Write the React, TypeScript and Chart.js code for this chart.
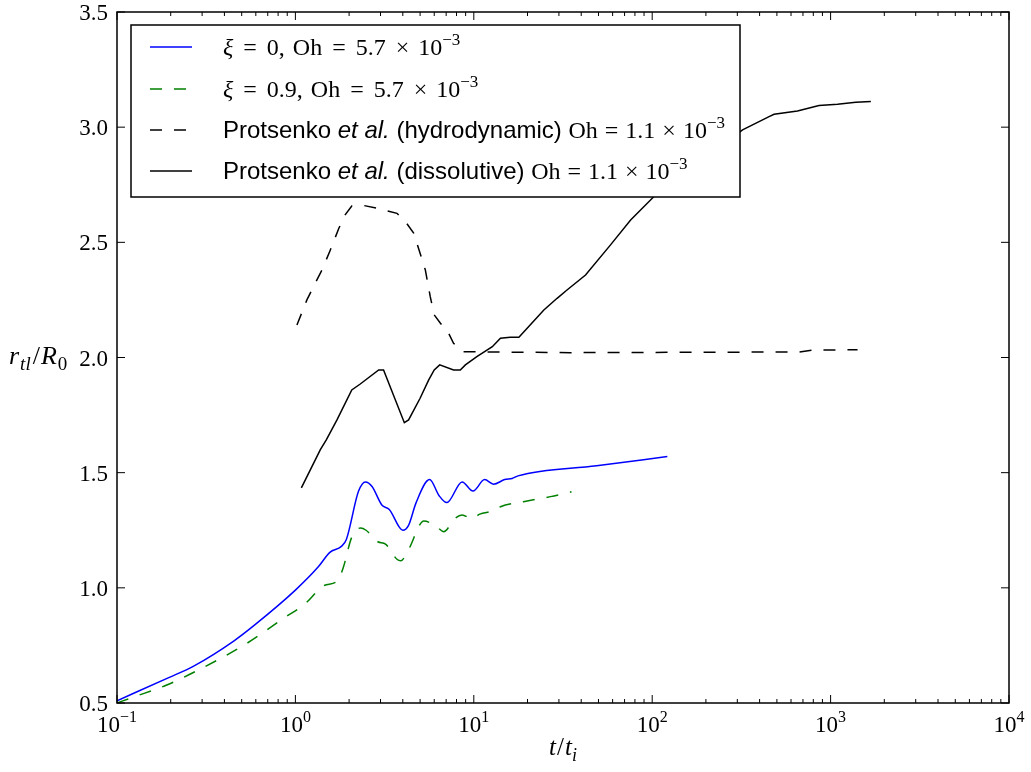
import React, { useEffect, useRef } from "react";
import { Chart, registerables } from "chart.js";

Chart.register(...registerables);

// ---- data ----
const blueT = [0.1, 0.195, 0.269, 0.453, 0.594, 1.0, 1.34, 1.56, 1.81, 1.93, 2.26, 2.47, 2.69, 3.05, 3.36, 4.0, 4.3, 4.75, 5.65, 6.39, 7.06, 8.6, 9.9, 11.5, 12.9, 14.9, 16.4, 17.7, 48.8, 121.6];
const blueY = [0.51, 0.61, 0.66, 0.77, 0.84, 0.99, 1.09, 1.154, 1.18, 1.21, 1.42, 1.46, 1.44, 1.36, 1.34, 1.25, 1.27, 1.37, 1.47, 1.4, 1.37, 1.46, 1.42, 1.47, 1.45, 1.47, 1.475, 1.486, 1.53, 1.57];

const greenT = [0.1, 0.125, 0.19, 0.297, 0.512, 0.86, 1.13, 1.45, 1.72, 1.85, 2.07, 2.32, 2.49, 2.9, 3.2, 3.71, 3.9, 4.3, 5.25, 6.09, 6.79, 7.8, 8.6, 9.75, 10.8, 12.8, 14.1, 19, 26.9, 35.3];
const greenY = [0.5, 0.527, 0.578, 0.65, 0.75, 0.868, 0.93, 1.01, 1.03, 1.085, 1.22, 1.26, 1.25, 1.2, 1.19, 1.124, 1.118, 1.165, 1.29, 1.27, 1.244, 1.3, 1.316, 1.3, 1.32, 1.334, 1.352, 1.374, 1.396, 1.417];

const hydroT = [1.02, 1.16, 1.32, 1.41, 1.57, 1.75, 1.9, 2.07, 2.41, 2.86, 3.71, 4.2, 4.6, 5.0, 5.35, 5.7, 6.0, 6.5, 7.23, 7.7, 8.6, 34.8, 665, 800, 1416];
const hydroY = [2.141, 2.25, 2.337, 2.38, 2.467, 2.56, 2.619, 2.658, 2.66, 2.648, 2.626, 2.583, 2.54, 2.453, 2.38, 2.264, 2.185, 2.149, 2.105, 2.062, 2.025, 2.021, 2.024, 2.032, 2.034];

const dissT = [1.08, 1.38, 1.49, 1.71, 2.07, 2.31, 2.93, 3.12, 4.08, 4.31, 5.0, 5.58, 6.0, 6.44, 7.7, 8.4, 8.97, 10.4, 12.7, 14.1, 16.0, 17.9, 24.7, 29.3, 33.3, 42.3, 58.4, 75.7, 102, 321, 452, 482, 652, 861, 1093, 1384, 1681];
const dissY = [1.434, 1.6, 1.642, 1.729, 1.859, 1.885, 1.946, 1.946, 1.717, 1.729, 1.823, 1.902, 1.946, 1.968, 1.946, 1.946, 1.968, 2.004, 2.047, 2.084, 2.088, 2.088, 2.206, 2.257, 2.293, 2.358, 2.489, 2.597, 2.698, 2.988, 3.046, 3.056, 3.07, 3.094, 3.1, 3.108, 3.111];

const xMajorTicks = [0.1, 1, 10, 100, 1000, 10000];
const xTickExponents = ["−1", "0", "1", "2", "3", "4"];
const yTicks = [0.5, 1.0, 1.5, 2.0, 2.5, 3.0, 3.5];
const yTickLabels = ["0.5", "1.0", "1.5", "2.0", "2.5", "3.0", "3.5"];

const SERIF = '"Liberation Serif", "DejaVu Serif", serif';
const SANS = '"Liberation Sans", Arial, sans-serif';

type Run = { t: string; f: string; dy?: number; gap?: number };

const M = `24px ${SERIF}`;
const MI = `italic 24px ${SERIF}`;
const SUP = `17px ${SERIF}`;

function xiRow(val: string): Run[] {
  return [
    { t: "ξ", f: MI, gap: 4 },
    { t: " =", f: M, gap: 4 },
    { t: " " + val + ",", f: M, gap: 2 },
    { t: " Oh", f: M, gap: 4 },
    { t: " =", f: M, gap: 4 },
    { t: " 5.7", f: M, gap: 4 },
    { t: " ×", f: M, gap: 3 },
    { t: " 10", f: M },
    { t: "−3", f: SUP, dy: -10 },
  ];
}

function protRow(kind: string): Run[] {
  return [
    { t: "Protsenko ", f: `24px ${SANS}` },
    { t: "et al.", f: `italic 24px ${SANS}` },
    { t: " (" + kind + ") ", f: `24px ${SANS}` },
    { t: "Oh", f: M, gap: 1 },
    { t: " =", f: M, gap: 1 },
    { t: " 1.1", f: M, gap: 1 },
    { t: " ×", f: M, gap: 1 },
    { t: " 10", f: M },
    { t: "−3", f: SUP, dy: -10 },
  ];
}

const legendRuns: Run[][] = [xiRow("0"), xiRow("0.9"), protRow("hydrodynamic"), protRow("dissolutive")];

function runsWidth(ctx: CanvasRenderingContext2D, runs: Run[]) {
  let w = 0;
  for (const r of runs) {
    ctx.font = r.f;
    w += ctx.measureText(r.t).width + (r.gap || 0);
  }
  return w;
}

function drawRuns(ctx: CanvasRenderingContext2D, runs: Run[], x: number, y: number, align: "left" | "center" | "right" = "left") {
  const w = runsWidth(ctx, runs);
  let cx = align === "left" ? x : align === "center" ? x - w / 2 : x - w;
  ctx.textAlign = "left";
  ctx.textBaseline = "alphabetic";
  for (const r of runs) {
    ctx.font = r.f;
    ctx.fillText(r.t, cx, y + (r.dy || 0));
    cx += ctx.measureText(r.t).width + (r.gap || 0);
  }
}

const decorPlugin = {
  id: "decor",
  afterDraw(chart: any) {
    const ctx: CanvasRenderingContext2D = chart.ctx;
    const { left, right, top, bottom } = chart.chartArea;
    const xs = chart.scales.x;
    const ys = chart.scales.y;
    ctx.save();
    ctx.fillStyle = "#000";
    ctx.strokeStyle = "#000";

    // ticks
    ctx.lineWidth = 1;
    ctx.beginPath();
    for (let k = -1; k < 4; k++) {
      for (let m = 2; m <= 9; m++) {
        const px = xs.getPixelForValue(m * Math.pow(10, k));
        ctx.moveTo(px, bottom);
        ctx.lineTo(px, bottom - 4);
        ctx.moveTo(px, top);
        ctx.lineTo(px, top + 4);
      }
    }
    for (const v of xMajorTicks) {
      const px = xs.getPixelForValue(v);
      ctx.moveTo(px, bottom);
      ctx.lineTo(px, bottom - 8);
      ctx.moveTo(px, top);
      ctx.lineTo(px, top + 8);
    }
    for (const v of yTicks) {
      const py = ys.getPixelForValue(v);
      ctx.moveTo(left, py);
      ctx.lineTo(left + 8, py);
      ctx.moveTo(right, py);
      ctx.lineTo(right - 8, py);
    }
    ctx.stroke();

    // frame
    ctx.lineWidth = 1.5;
    ctx.strokeRect(left, top, right - left, bottom - top);

    // x tick labels
    xMajorTicks.forEach((v, i) => {
      const px = xs.getPixelForValue(v);
      drawRuns(ctx, [
        { t: "10", f: `23px ${SERIF}` },
        { t: xTickExponents[i], f: `16px ${SERIF}`, dy: -10 },
      ], px, bottom + 29, "center");
    });
    // y tick labels
    yTicks.forEach((v, i) => {
      const py = ys.getPixelForValue(v);
      drawRuns(ctx, [{ t: yTickLabels[i], f: `23px ${SERIF}` }], left - 9, py + 8, "right");
    });

    // axis titles
    drawRuns(ctx, [
      { t: "t", f: `italic 25px ${SERIF}`, gap: 1 },
      { t: "/", f: `25px ${SERIF}`, gap: 1 },
      { t: "t", f: `italic 25px ${SERIF}` },
      { t: "i", f: `italic 18px ${SERIF}`, dy: 6 },
    ], (left + right) / 2, bottom + 52, "center");
    drawRuns(ctx, [
      { t: "r", f: `italic 26px ${SERIF}`, gap: 1 },
      { t: "tl", f: `italic 19px ${SERIF}`, dy: 6, gap: 2 },
      { t: "/", f: `26px ${SERIF}`, gap: 1 },
      { t: "R", f: `italic 26px ${SERIF}`, gap: 1 },
      { t: "0", f: `19px ${SERIF}`, dy: 6 },
    ], 9, ys.getPixelForValue(2.0) + 6, "left");

    // legend
    const bx = 131, by = 25, bw = 609, bh = 172;
    ctx.fillStyle = "#fff";
    ctx.fillRect(bx, by, bw, bh);
    ctx.lineWidth = 1.5;
    ctx.strokeStyle = "#000";
    ctx.strokeRect(bx, by, bw, bh);
    const rowY = [47, 89, 130, 171];
    chart.data.datasets.forEach((ds: any, i: number) => {
      const y = rowY[i];
      ctx.beginPath();
      ctx.strokeStyle = ds.borderColor;
      ctx.lineWidth = ds.borderWidth;
      ctx.setLineDash(ds.borderDash || []);
      ctx.moveTo(150, y);
      ctx.lineTo(192, y);
      ctx.stroke();
      ctx.setLineDash([]);
      ctx.fillStyle = "#000";
      drawRuns(ctx, legendRuns[i], 223, y + 8, "left");
    });
    ctx.restore();
  },
};

function pts(t: number[], y: number[]) {
  return t.map((v, i) => ({ x: v, y: y[i] }));
}

export default function App() {
  const ref = useRef<HTMLCanvasElement | null>(null);
  useEffect(() => {
    if (!ref.current) return;
    const chart = new Chart(ref.current, {
      type: "line",
      data: {
        datasets: [
          { label: "ξ = 0, Oh = 5.7 × 10⁻³", data: pts(blueT, blueY), borderColor: "#0000ff", borderWidth: 1.5, pointRadius: 0, fill: false, cubicInterpolationMode: "monotone", order: 4 },
          { label: "ξ = 0.9, Oh = 5.7 × 10⁻³", data: pts(greenT, greenY), borderColor: "#008000", borderWidth: 1.5, borderDash: [12, 12], pointRadius: 0, fill: false, cubicInterpolationMode: "monotone", order: 3 },
          { label: "Protsenko et al. (hydrodynamic) Oh = 1.1 × 10⁻³", data: pts(hydroT, hydroY), borderColor: "#000000", borderWidth: 1.5, borderDash: [12, 12], pointRadius: 0, fill: false, tension: 0, order: 2 },
          { label: "Protsenko et al. (dissolutive) Oh = 1.1 × 10⁻³", data: pts(dissT, dissY), borderColor: "#000000", borderWidth: 1.5, pointRadius: 0, fill: false, tension: 0, order: 1 },
        ],
      },
      options: {
        animation: false,
        responsive: false,
        devicePixelRatio: 1,
        parsing: false,
        layout: { padding: { left: 117, top: 12, right: 22, bottom: 69 } },
        scales: {
          x: { type: "logarithmic", min: 0.1, max: 10000, display: false },
          y: { type: "linear", min: 0.5, max: 3.5, display: false },
        },
        plugins: { legend: { display: false }, tooltip: { enabled: false } },
      } as any,
      plugins: [decorPlugin],
    });
    return () => chart.destroy();
  }, []);
  return (
    <div style={{ position: "fixed", left: 0, top: 0, width: 1031, height: 772, background: "#fff" }}>
      <canvas ref={ref} width={1031} height={772} style={{ width: 1031, height: 772 }} />
    </div>
  );
}
